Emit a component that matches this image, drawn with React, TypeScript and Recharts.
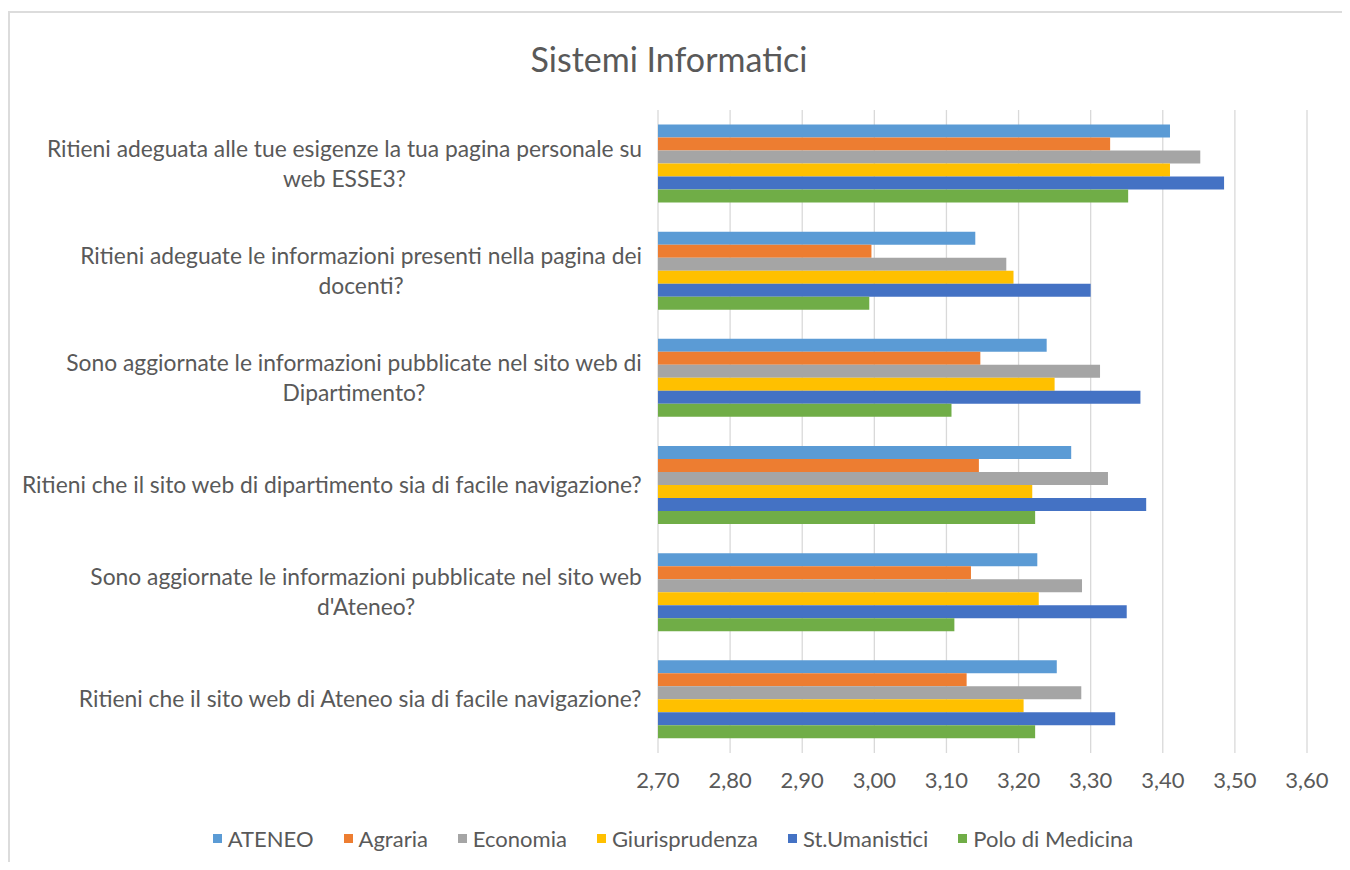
import React from 'react';
import { BarChart, Bar, XAxis, YAxis, CartesianGrid, Legend } from 'recharts';

const categories = [
  'Ritieni adeguata alle tue esigenze la tua pagina personale su\nweb ESSE3?',
  'Ritieni adeguate le informazioni presenti nella pagina dei\ndocenti?',
  'Sono aggiornate le informazioni pubblicate nel sito web di\nDipartimento?',
  'Ritieni che il sito web di dipartimento sia di facile navigazione?',
  "Sono aggiornate le informazioni pubblicate nel sito web\nd'Ateneo?",
  'Ritieni che il sito web di Ateneo sia di facile navigazione?',
];

const seriesNames = ['ATENEO', 'Agraria', 'Economia', 'Giurisprudenza', 'St.Umanistici', 'Polo di Medicina'];
const seriesColors = ['#5B9BD5', '#ED7D31', '#A5A5A5', '#FFC000', '#4472C4', '#70AD47'];

const ateneo = [3.41, 3.14, 3.239, 3.273, 3.226, 3.253];
const agraria = [3.327, 2.996, 3.147, 3.145, 3.134, 3.128];
const economia = [3.452, 3.183, 3.313, 3.324, 3.288, 3.287];
const giurisprudenza = [3.41, 3.193, 3.25, 3.219, 3.228, 3.207];
const stUmanistici = [3.485, 3.30, 3.369, 3.377, 3.35, 3.334];
const poloMedicina = [3.352, 2.993, 3.107, 3.223, 3.111, 3.223];

const xTicks = [2.7, 2.8, 2.9, 3.0, 3.1, 3.2, 3.3, 3.4, 3.5, 3.6];

const seriesValues = [ateneo, agraria, economia, giurisprudenza, stUmanistici, poloMedicina];

const data = categories.map((c, i) => {
  const row: any = { category: c };
  seriesNames.forEach((n, s) => {
    row[n] = seriesValues[s][i];
  });
  return row;
});

const FONT = 'Lato, "Open Sans", sans-serif';
const TEXT = '#595959';
const LABEL_SIZE = 22.8;
const LINE_H = 30;

let ctx: CanvasRenderingContext2D | null = null;
function measure(text: string, size: number): number {
  if (!ctx) {
    const c = document.createElement('canvas');
    ctx = c.getContext('2d');
  }
  if (!ctx) return text.length * size * 0.48;
  ctx.font = `${size}px Lato`;
  return ctx.measureText(text).width;
}

const CategoryTick = (props: any) => {
  const { x, y, payload } = props;
  const lines: string[] = String(payload.value).split('\n');
  const maxW = Math.max(...lines.map((l) => measure(l, LABEL_SIZE)));
  const cx = x - maxW / 2;
  const startY = y - ((lines.length - 1) * LINE_H) / 2;
  return (
    <g>
      {lines.map((l, i) => (
        <text
          key={i}
          x={cx}
          y={startY + i * LINE_H}
          dy="0.35em"
          textAnchor="middle"
          fill={TEXT}
          fontSize={LABEL_SIZE}
          fontFamily={FONT}
        >
          {l}
        </text>
      ))}
    </g>
  );
};

const ValueTick = (props: any) => {
  const { x, y, payload } = props;
  return (
    <text x={x} y={y} dy="0.71em" textAnchor="middle" fill={TEXT} fontSize={22} fontFamily={FONT}>
      {Number(payload.value).toFixed(2).replace('.', ',')}
    </text>
  );
};

const renderLegend = () => (
  <div
    style={{
      display: 'flex',
      justifyContent: 'center',
      alignItems: 'center',
      gap: 30,
      fontFamily: FONT,
      fontSize: 22,
      color: TEXT,
      height: 30,
    }}
  >
    {seriesNames.map((n, i) => (
      <div key={n} style={{ display: 'flex', alignItems: 'center' }}>
        <span
          style={{ display: 'inline-block', width: 9, height: 9, background: seriesColors[i], marginRight: 6 }}
        />
        <span>{n}</span>
      </div>
    ))}
  </div>
);

export default function App() {
  return (
    <div
      style={{
        position: 'relative',
        width: 1342,
        height: 862,
        marginBottom: -8,
        background: '#fff',
        overflow: 'hidden',
      }}
    >
      <div
        style={{
          position: 'absolute',
          top: 3,
          left: 0,
          width: 1400,
          height: 900,
          borderTop: '2px solid #DCDCDC',
          borderLeft: '2px solid #DCDCDC',
        }}
      />
      <div
        style={{
          position: 'absolute',
          top: 31,
          left: 0,
          width: 1322,
          textAlign: 'center',
          fontFamily: FONT,
          fontSize: 34,
          lineHeight: '40px',
          color: TEXT,
        }}
      >
        Sistemi Informatici
      </div>
      <div style={{ position: 'absolute', top: 0, left: 0 }}>
        <BarChart
          width={1342}
          height={862}
          data={data}
          layout="vertical"
          margin={{ top: 102, right: 43, bottom: 67, left: 0 }}
          barCategoryGap="13.5%"
          barGap={0}
        >
          <CartesianGrid horizontal={false} vertical={true} stroke="#D9D9D9" strokeWidth={1.3} />
          <XAxis
            type="number"
            domain={[2.7, 3.6]}
            ticks={xTicks}
            axisLine={false}
            tickLine={false}
            tickSize={0}
            tickMargin={19}
            height={50}
            tick={<ValueTick />}
            interval={0}
          />
          <YAxis
            type="category"
            dataKey="category"
            width={650}
            axisLine={false}
            tickLine={false}
            tickSize={0}
            tickMargin={16}
            tick={<CategoryTick />}
            interval={0}
          />
          <Legend
            verticalAlign="middle"
            align="center"
            layout="horizontal"
            content={renderLegend}
            wrapperStyle={{ top: 815, left: 0, width: 1330 }}
          />
          {seriesNames.map((n, i) => (
            <Bar key={n} dataKey={n} name={n} fill={seriesColors[i]} isAnimationActive={false} />
          ))}
        </BarChart>
      </div>
    </div>
  );
}
